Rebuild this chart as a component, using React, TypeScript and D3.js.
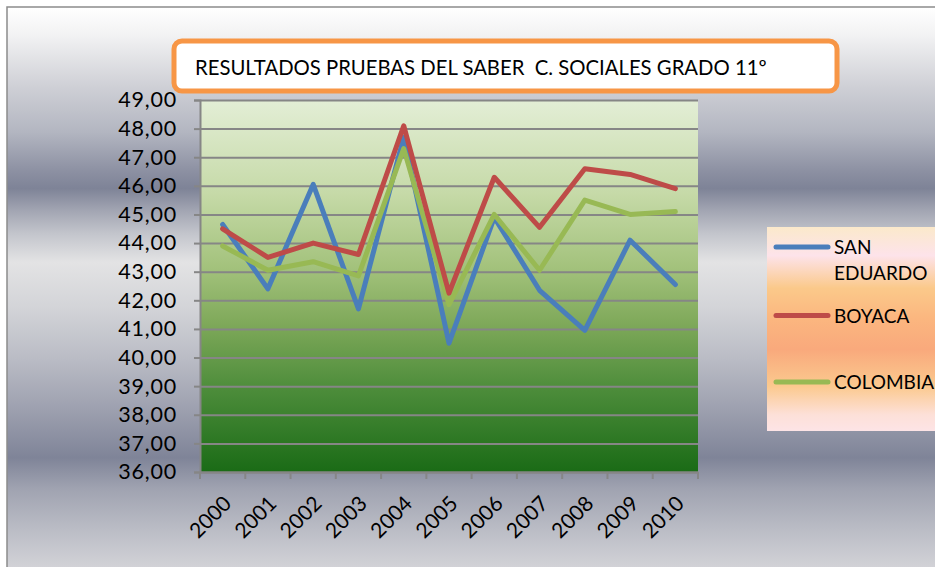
import React, { useEffect, useRef } from 'react';
import * as d3 from 'd3';

const years = ['2000', '2001', '2002', '2003', '2004', '2005', '2006', '2007', '2008', '2009', '2010'];
const sanEduardo = [44.65, 42.4, 46.05, 41.7, 47.7, 40.5, 44.9, 42.35, 40.95, 44.1, 42.55];
const boyaca = [44.5, 43.5, 44.0, 43.6, 48.1, 42.25, 46.3, 44.55, 46.6, 46.4, 45.9];
const colombia = [43.9, 43.05, 43.35, 42.85, 47.3, 41.85, 45.0, 43.05, 45.5, 45.0, 45.1];
const yTicks = [36, 37, 38, 39, 40, 41, 42, 43, 44, 45, 46, 47, 48, 49];

const seriesNames = ['SAN EDUARDO', 'BOYACA', 'COLOMBIA'];
const seriesColors = ['#4a7ebb', '#be4b48', '#98b954'];
const title = 'RESULTADOS PRUEBAS DEL SABER  C. SOCIALES GRADO 11º';

const App: React.FC = () => {
  const svgRef = useRef<SVGSVGElement | null>(null);

  useEffect(() => {
    const W = 935, H = 567;
    const plot = { left: 200, top: 100, right: 698, bottom: 472 };
    const font = 'Lato, "Liberation Sans", sans-serif';

    const svg = d3.select(svgRef.current);
    svg.selectAll('*').remove();
    svg.attr('width', W).attr('height', H);

    const defs = svg.append('defs');

    // chrome-like background
    const bg = defs.append('linearGradient').attr('id', 'bgGrad')
      .attr('x1', 0).attr('y1', 0).attr('x2', 0).attr('y2', 1);
    [
      [0, '#ffffff'], [0.05, '#f2f2f3'], [0.14, '#cfd0d6'], [0.22, '#b3b6c1'],
      [0.29, '#8c90a2'], [0.32, '#7e8397'], [0.36, '#a3a6b3'], [0.4, '#c3c5cc'],
      [0.45, '#e3e3e4'], [0.53, '#d3d4d8'], [0.62, '#babcc5'], [0.71, '#9da0af'],
      [0.795, '#7f8498'], [0.85, '#a0a3b1'], [0.92, '#babcc5'], [1, '#d6d6da']
    ].forEach(([o, c]) => bg.append('stop').attr('offset', o as number).attr('stop-color', c as string));

    const pg = defs.append('linearGradient').attr('id', 'plotGrad')
      .attr('x1', 0).attr('y1', 0).attr('x2', 0).attr('y2', 1);
    [
      [0, '#e3eed6'], [0.25, '#c6daa8'], [0.45, '#a3c27c'], [0.6, '#7fa95a'],
      [0.78, '#4c8c3a'], [1, '#1a6b16']
    ].forEach(([o, c]) => pg.append('stop').attr('offset', o as number).attr('stop-color', c as string));

    const lg = defs.append('linearGradient').attr('id', 'legGrad')
      .attr('x1', 0).attr('y1', 0).attr('x2', 0).attr('y2', 1);
    [
      [0, '#fbe9cb'], [0.14, '#fde3ea'], [0.3, '#fbc98a'], [0.45, '#fbb67f'],
      [0.6, '#f9a97c'], [0.78, '#fbc98e'], [0.92, '#fde0d8'], [1, '#fde4e6']
    ].forEach(([o, c]) => lg.append('stop').attr('offset', o as number).attr('stop-color', c as string));

    svg.append('rect')
      .attr('x', 7).attr('y', 7).attr('width', W).attr('height', H)
      .attr('fill', 'url(#bgGrad)')
      .attr('stroke', '#8c8c8c').attr('stroke-width', 1.5);

    // title box
    svg.append('rect')
      .attr('x', 174).attr('y', 41).attr('width', 663).attr('height', 50)
      .attr('rx', 8).attr('fill', '#ffffff')
      .attr('stroke', '#f79646').attr('stroke-width', 5);
    svg.append('text')
      .attr('x', 195).attr('y', 75)
      .attr('font-family', font).attr('font-size', 20.3)
      .attr('fill', '#000').style('white-space', 'pre')
      .text(title);

    const x = d3.scaleBand<string>().domain(years).range([plot.left, plot.right]);
    const y = d3.scaleLinear().domain([36, 49]).range([plot.bottom, plot.top]);

    svg.append('rect')
      .attr('x', plot.left).attr('y', plot.top)
      .attr('width', plot.right - plot.left).attr('height', plot.bottom - plot.top)
      .attr('fill', 'url(#plotGrad)');

    // gridlines
    svg.append('g')
      .attr('transform', `translate(${plot.left},0)`)
      .call(d3.axisLeft(y).tickValues(yTicks).tickSize(-(plot.right - plot.left)).tickFormat(() => ''))
      .call(g => g.select('.domain').remove())
      .selectAll('line')
      .attr('stroke', '#868686').attr('stroke-width', 2);

    // y axis
    const yAxis = svg.append('g')
      .attr('transform', `translate(${plot.left},0)`)
      .call(d3.axisLeft(y).tickValues(yTicks).tickSize(6).tickPadding(17)
        .tickFormat(d => (d as number).toFixed(2).replace('.', ',')));
    yAxis.select('.domain').attr('stroke', '#868686').attr('stroke-width', 2);
    yAxis.selectAll('line').attr('stroke', '#868686').attr('stroke-width', 2);
    yAxis.selectAll('text')
      .attr('font-family', font).attr('font-size', 21.5).attr('fill', '#000')
      .attr('letter-spacing', 0.8);

    // x axis
    const xAxis = svg.append('g')
      .attr('transform', `translate(0,${plot.bottom})`)
      .call(d3.axisBottom(x).tickSize(0).tickSizeOuter(0));
    xAxis.select('.domain').attr('stroke', '#868686').attr('stroke-width', 2);
    xAxis.selectAll('.tick text')
      .attr('font-family', font).attr('font-size', 21).attr('fill', '#000')
      .attr('text-anchor', 'end')
      .attr('transform', 'translate(10,33) rotate(-45)')
      .attr('x', 0).attr('y', 0).attr('dy', 0);
    const edges = years.map(d => x(d) as number).concat([plot.right]);
    svg.append('g').selectAll('line').data(edges).enter().append('line')
      .attr('x1', d => d).attr('x2', d => d)
      .attr('y1', plot.bottom).attr('y2', plot.bottom + 7)
      .attr('stroke', '#868686').attr('stroke-width', 2);

    // series lines
    const allSeries = [sanEduardo, boyaca, colombia];
    const line = d3.line<number>()
      .x((_, i) => (x(years[i]) as number) + x.bandwidth() / 2)
      .y(d => y(d));
    [0, 2, 1].forEach(si => {
      svg.append('path')
        .attr('d', line(allSeries[si]) as string)
        .attr('fill', 'none')
        .attr('stroke', seriesColors[si])
        .attr('stroke-width', 5)
        .attr('stroke-linejoin', 'round')
        .attr('stroke-linecap', 'round');
    });

    // legend
    const leg = svg.append('g');
    leg.append('rect')
      .attr('x', 767).attr('y', 227).attr('width', 168).attr('height', 204)
      .attr('fill', 'url(#legGrad)');
    const legY = [247, 315.5, 382];
    seriesNames.forEach((name, i) => {
      leg.append('line')
        .attr('x1', 776).attr('x2', 828)
        .attr('y1', legY[i]).attr('y2', legY[i])
        .attr('stroke', seriesColors[i]).attr('stroke-width', 5)
        .attr('stroke-linecap', 'round');
      const parts = name === 'SAN EDUARDO' ? ['SAN', 'EDUARDO'] : [name];
      const t = leg.append('text')
        .attr('font-family', font).attr('font-size', 19).attr('fill', '#000');
      parts.forEach((p, j) => {
        t.append('tspan').attr('x', 834).attr('y', legY[i] + 7 + j * 26).text(p);
      });
    });
  }, []);

  return (
    <svg ref={svgRef} style={{ position: 'absolute', left: 0, top: 0, display: 'block' }} />
  );
};

export default App;
